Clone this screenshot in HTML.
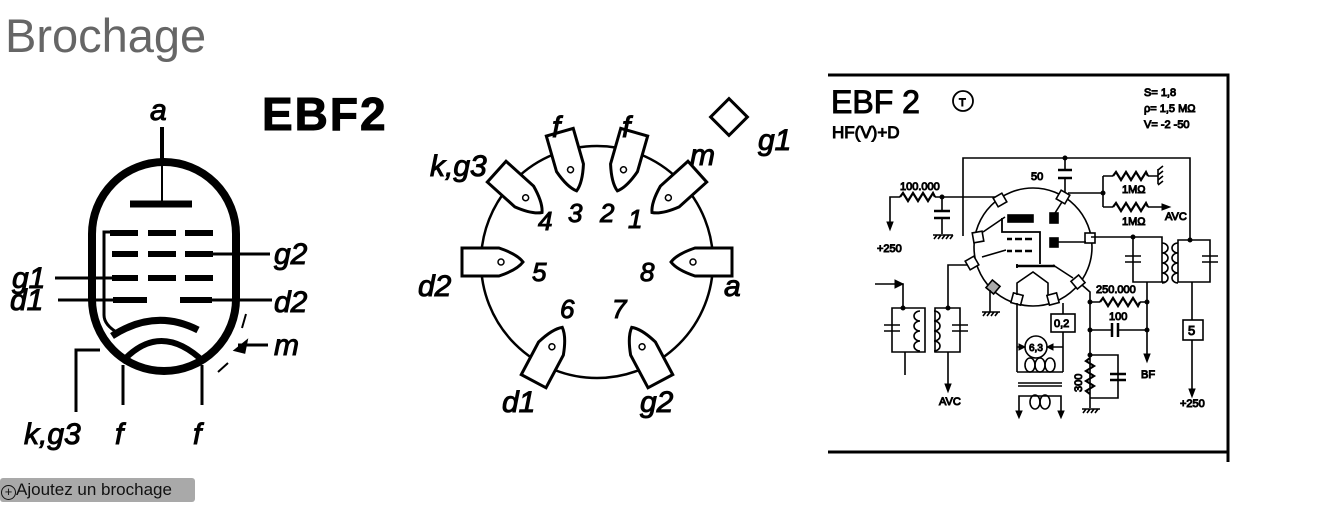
<!DOCTYPE html>
<html><head><meta charset="utf-8"><style>
html,body{margin:0;padding:0;background:#fff;}
body{width:1337px;height:518px;position:relative;overflow:hidden;font-family:"Liberation Sans",sans-serif;}
.t{position:absolute;left:5px;top:8px;font-size:47px;color:#666;}
.b{position:absolute;left:0;top:478px;height:24px;width:195px;background:#a9a9a9;border-radius:3px;font-size:17px;line-height:24px;color:#111;}
svg{position:absolute;left:0;top:0;}
</style></head><body>
<div class="t">Brochage</div>
<div class="b"><span style="display:inline-block;width:13px;height:13px;border:1.5px solid #111;border-radius:50%;font-size:13px;line-height:12px;text-align:center;vertical-align:-1px;margin-left:1px">+</span>Ajoutez un brochage</div>
<svg width="1337" height="518" viewBox="0 0 1337 518">
<g fill="none" stroke="#000" stroke-linecap="butt">
 <!-- left tube -->
 <rect x="92" y="162" width="144" height="209" rx="72" stroke-width="8"/>
 <line x1="162" y1="127" x2="162" y2="162" stroke-width="4"/>
 <line x1="162" y1="162" x2="162" y2="202" stroke-width="2"/>
 <line x1="130" y1="204" x2="192" y2="204" stroke-width="7"/>
 <g stroke-width="6">
  <line x1="110" y1="233" x2="138" y2="233"/><line x1="148" y1="233" x2="176" y2="233"/><line x1="185" y1="233" x2="213" y2="233"/>
  <line x1="112" y1="254" x2="138" y2="254"/><line x1="148" y1="254" x2="176" y2="254"/><line x1="185" y1="254" x2="213" y2="254"/>
  <line x1="112" y1="278" x2="138" y2="278"/><line x1="148" y1="278" x2="176" y2="278"/><line x1="185" y1="278" x2="213" y2="278"/>
  <line x1="113" y1="300" x2="147" y2="300"/><line x1="180" y1="300" x2="212" y2="300"/>
 </g>
 <g stroke-width="3">
  <line x1="55" y1="278" x2="112" y2="278"/><line x1="58" y1="300" x2="113" y2="300"/>
  <line x1="213" y1="254" x2="270" y2="254"/><line x1="212" y1="300" x2="272" y2="300"/>
  <path d="M110 232 H104 V315 Q104 325 118 333"/>
  <path d="M76 412 V350 H100"/>
  <line x1="123" y1="365" x2="123" y2="405"/><line x1="202" y1="365" x2="202" y2="405"/>
  <path d="M268 345 H238"/><path d="M236 350 L246 342 L244 352 Z" fill="#000"/>
  <path d="M246 314 L242 328 M228 363 L218 372" stroke-width="2"/>
 </g>
 <path d="M112 336 Q155 308 198 330" stroke-width="7"/>
 <path d="M122 362 Q160 320 204 362" stroke-width="6"/>

 <!-- middle socket -->
 <circle cx="597" cy="262" r="116" stroke-width="2.5"/>
 <g stroke-width="3" fill="#fff">
  <g transform="translate(597,262) rotate(-106)"><path d="M135,-14 L98,-14 Q80,-8 74,0 Q80,8 98,14 L135,14 Z"/><circle cx="96" cy="0" r="3" stroke-width="1.5"/></g>
  <g transform="translate(597,262) rotate(-74)"><path d="M135,-14 L98,-14 Q80,-8 74,0 Q80,8 98,14 L135,14 Z"/><circle cx="96" cy="0" r="3" stroke-width="1.5"/></g>
  <g transform="translate(597,262) rotate(-138)"><path d="M135,-14 L98,-14 Q80,-8 74,0 Q80,8 98,14 L135,14 Z"/><circle cx="96" cy="0" r="3" stroke-width="1.5"/></g>
  <g transform="translate(597,262) rotate(-42)"><path d="M135,-14 L98,-14 Q80,-8 74,0 Q80,8 98,14 L135,14 Z"/><circle cx="96" cy="0" r="3" stroke-width="1.5"/></g>
  <g transform="translate(597,262) rotate(0)"><path d="M135,-14 L98,-14 Q80,-8 74,0 Q80,8 98,14 L135,14 Z"/><circle cx="96" cy="0" r="3" stroke-width="1.5"/></g>
  <g transform="translate(597,262) rotate(180)"><path d="M135,-14 L98,-14 Q80,-8 74,0 Q80,8 98,14 L135,14 Z"/><circle cx="96" cy="0" r="3" stroke-width="1.5"/></g>
  <g transform="translate(597,262) rotate(62)"><path d="M135,-14 L98,-14 Q80,-8 74,0 Q80,8 98,14 L135,14 Z"/><circle cx="96" cy="0" r="3" stroke-width="1.5"/></g>
  <g transform="translate(597,262) rotate(118)"><path d="M135,-14 L98,-14 Q80,-8 74,0 Q80,8 98,14 L135,14 Z"/><circle cx="96" cy="0" r="3" stroke-width="1.5"/></g>
 </g>
 <rect x="716" y="104" width="26" height="26" transform="rotate(45 729 117)" stroke-width="3"/>

 <!-- right schematic frame -->
 <path d="M828 75 H1228 V462 M828 452 H1228" stroke-width="3"/>
 <circle cx="963" cy="101" r="10" stroke-width="1.8"/>
 <g stroke-width="1.6">
  <circle cx="1033" cy="247" r="59"/>
  <path d="M963 236 V158 H1190 V240 M1065 158 V170 M1065 178 V195 M1068 193 H1103 M1103 176 V207 M1103 176 H1113 M1148 176 H1158 M1103 207 H1113 M1148 207 H1165"/>
  <path d="M1058 170 H1072 M1058 178 H1072" stroke-width="2.5"/>
  <polyline points="1113,176 1116,172 1121,180 1126,172 1131,180 1136,172 1141,180 1146,172 1148,176" stroke-width="2.2"/>
  <polyline points="1113,207 1116,203 1121,211 1126,203 1131,211 1136,203 1141,211 1146,203 1148,207" stroke-width="2.2"/>
  <path d="M1158 169 V184"/><path d="M1158 170 l5 -4 M1158 175 l5 -4 M1158 180 l5 -4 M1158 185 l5 -4"/>
  <path d="M890 225 V197 H900 M935 197 H1000 M942 197 V211 M942 219 V234"/>
  <polyline points="900,197 903,193 908,201 913,193 918,201 923,193 928,201 933,193 935,197" stroke-width="2.2"/>
  <path d="M934 211 H950 M934 218 H950" stroke-width="2.5"/>
  <path d="M933 235 H953 M934 239 l3 -4 M938 239 l3 -4 M942 239 l3 -4 M946 239 l3 -4 M950 239 l3 -4"/>
  <g fill="#fff">
   <rect x="995" y="195" width="10" height="10" transform="rotate(-30 1000 200)"/>
   <rect x="1058" y="192" width="10" height="10" transform="rotate(30 1063 197)"/>
   <rect x="1085" y="233" width="10" height="10"/>
   <rect x="1073" y="277" width="10" height="10" transform="rotate(-40 1078 282)"/>
   <rect x="1048" y="294" width="10" height="10" transform="rotate(-15 1053 299)"/>
   <rect x="1012" y="294" width="10" height="10" transform="rotate(15 1017 299)"/>
   <rect x="988" y="282" width="10" height="10" fill="#aaa" transform="rotate(40 993 287)"/>
   <rect x="967" y="258" width="10" height="10" transform="rotate(60 972 263)"/>
   <rect x="973" y="232" width="10" height="10" transform="rotate(-10 978 237)"/>
  </g>
  <rect x="1008" y="215" width="25" height="7" fill="#000"/>
  <rect x="1050" y="213" width="8" height="10" fill="#000"/>
  <rect x="1050" y="238" width="8" height="9" fill="#000"/>
  <path d="M1007 239 H1012 M1015 239 H1022 M1025 239 H1032 M1007 251 H1012 M1015 251 H1022 M1025 251 H1032" stroke-width="2.5"/>
  <path d="M1002 218 V232 H1040 V264 M1017 264 V268" stroke-width="1.8"/>
  <path d="M1016 266 H1055" stroke-width="2.5"/>
  <path d="M1058 242 H1086 M1062 202 L1055 213 M983 232 L1005 217 M982 257 L1006 250 M1053 265 L1073 278 M1017 295 V283 L1033 272 L1048 283 V295"/>
  <path d="M1091 237 H1140 M1133 237 V282 H1165 M1133 237 H1162 V282 M1125 256 H1141 M1125 262 H1141" />
  <path d="M1178 240 H1210 V282 H1178 Z M1202 256 H1218 M1202 262 H1218"/>
  <path d="M1162 243 a6 5 0 1 1 0 10 a6 5 0 1 1 0 10 a6 5 0 1 1 0 10 a6 5 0 1 1 0 10" />
  <path d="M1178 243 a6 5 0 1 0 0 10 a6 5 0 1 0 0 10 a6 5 0 1 0 0 10 a6 5 0 1 0 0 10" />
  <path d="M1192 282 V320 M1192 340 V390"/>
  <rect x="1183" y="320" width="20" height="20"/>
  <path d="M1082 285 L1090 292 V408 M1090 302 H1100 M1140 302 H1147 M1147 282 V355 M1090 330 H1111 M1119 330 H1147 M1090 355 H1118 V398 H1090"/>
  <polyline points="1100,302 1103,298 1108,306 1113,298 1118,306 1123,298 1128,306 1133,298 1138,306 1140,302" stroke-width="2.2"/>
  <path d="M1112 323 V337 M1118 323 V337" stroke-width="2.5"/>
  <polyline points="1090,358 1086,361 1094,366 1086,371 1094,376 1086,381 1094,386 1086,391 1090,394" stroke-width="2.2"/>
  <path d="M1110 374 H1126 M1110 380 H1126" stroke-width="2.5"/>
  <path d="M1082 409 H1100 M1083 413 l3 -4 M1087 413 l3 -4 M1091 413 l3 -4 M1095 413 l3 -4"/>
  <path d="M982 312 H1000 M983 316 l3 -4 M987 316 l3 -4 M991 316 l3 -4 M995 316 l3 -4 M990 290 V312"/>
  <!-- heater -->
  <path d="M1017 303 V372 M1063 303 V314 M1063 332 V372"/>
  <rect x="1051" y="314" width="24" height="18"/>
  <circle cx="1036" cy="347" r="11"/>
  <path d="M1017 347 H1025 M1047 347 H1063"/>
  <path d="M1017 372 H1063"/>
  <ellipse cx="1030" cy="365" rx="5" ry="7"/><ellipse cx="1040" cy="365" rx="5" ry="7"/><ellipse cx="1050" cy="365" rx="5" ry="7"/>
  <path d="M1018 383 H1062 M1018 386 H1062" stroke-width="1.5"/>
  <path d="M1019 413 V396 H1061 V413"/>
  <ellipse cx="1035" cy="402" rx="5" ry="7"/><ellipse cx="1045" cy="402" rx="5" ry="7"/>
  <!-- input -->
  <path d="M875 284 H903 V308 M892 308 H925 V352 H892 Z M935 308 H960 V352 H935 Z M948 308 V265 H968 M948 352 V385 M905 352 V375 M884 325 H900 M884 331 H900 M952 325 H968 M952 331 H968"/>
  <path d="M920 311 a6 5 0 1 0 0 10 a6 5 0 1 0 0 10 a6 5 0 1 0 0 10 a6 5 0 1 0 0 10"/>
  <path d="M934 311 a6 5 0 1 1 0 10 a6 5 0 1 1 0 10 a6 5 0 1 1 0 10 a6 5 0 1 1 0 10"/>
 </g>
 <g fill="#000">
  <path d="M903 284 l-8 -4 v8 Z M890 230 l-3 -8 h6 Z M948 392 l-3 -8 h6 Z M1147 362 l-3 -8 h6 Z M1192 397 l-3 -8 h6 Z M1170 207 l-8 -3 v6 Z M1019 418 l-3 -7 h6 Z M1061 418 l-3 -7 h6 Z M1025 347 l-6 -3 v6 Z M1047 347 l6 -3 v6 Z"/>
  <circle cx="1065" cy="158" r="2"/><circle cx="1103" cy="193" r="2"/><circle cx="942" cy="197" r="2"/><circle cx="1133" cy="237" r="2"/><circle cx="1190" cy="240" r="2"/><circle cx="1090" cy="302" r="2"/><circle cx="1147" cy="302" r="2"/><circle cx="1090" cy="330" r="2"/><circle cx="1147" cy="330" r="2"/><circle cx="1090" cy="355" r="2"/><circle cx="903" cy="308" r="2"/><circle cx="948" cy="308" r="2"/>
 </g>
 <g font-family="Liberation Sans, sans-serif" font-style="italic" font-size="30" fill="#000">
  <text x="150" y="120">a</text>
  <text x="12" y="288">g1</text><text x="10" y="310">d1</text>
  <text x="274" y="264">g2</text><text x="274" y="312">d2</text><text x="274" y="355">m</text>
  <text x="24" y="444">k,g3</text><text x="115" y="444">f</text><text x="193" y="444">f</text>
  <text x="552" y="137">f</text><text x="622" y="137">f</text>
  <text x="430" y="176">k,g3</text><text x="690" y="165">m</text><text x="758" y="150">g1</text>
  <text x="418" y="296">d2</text><text x="724" y="296">a</text>
  <text x="502" y="412">d1</text><text x="640" y="412">g2</text>
  <g font-size="26"><text x="538" y="230">4</text><text x="568" y="222">3</text><text x="600" y="222">2</text><text x="628" y="228">1</text>
  <text x="532" y="281">5</text><text x="640" y="281">8</text><text x="560" y="318">6</text><text x="612" y="318">7</text></g>
 </g>
 <text x="262" y="130" font-family="Liberation Sans, sans-serif" font-weight="bold" font-size="46" letter-spacing="2" fill="#000">EBF2</text>
 <g font-family="Liberation Sans, sans-serif" fill="#000">
  <text x="831" y="113" font-size="32">EBF 2</text>
  <text x="959" y="106" font-size="11">T</text>
  <text x="832" y="138" font-size="17">HF(V)+D</text>
  <text x="1144" y="96" font-size="11">S= 1,8</text>
  <text x="1144" y="112" font-size="11">ρ= 1,5 MΩ</text>
  <text x="1144" y="128" font-size="11">V= -2 -50</text>
  <g font-size="11">
  <text x="1031" y="180">50</text><text x="900" y="190">100.000</text><text x="877" y="252">+250</text>
  <text x="1122" y="193">1MΩ</text><text x="1122" y="225">1MΩ</text><text x="1165" y="220">AVC</text>
  <text x="1096" y="293">250.000</text><text x="1109" y="320">100</text><text x="1141" y="378">BF</text>
  <text x="1180" y="407">+250</text><text x="1188" y="335" font-size="13">5</text><text x="1054" y="327">0,2</text>
  <text x="1029" y="351" font-size="10">6,3</text><text x="939" y="405">AVC</text>
  <text x="1082" y="392" transform="rotate(-90 1082 392)">300</text>
  </g>
 </g>
</svg>
</body></html>
